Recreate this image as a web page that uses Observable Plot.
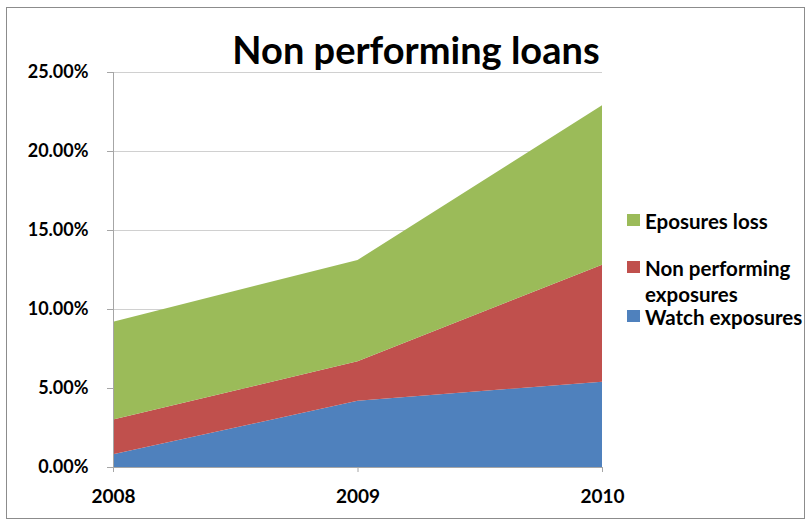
<!DOCTYPE html>
<html>
<head>
<meta charset="utf-8">
<script src="https://cdn.jsdelivr.net/npm/d3@7"></script>
<script src="https://cdn.jsdelivr.net/npm/@observablehq/plot@0.6"></script>
<style>
  html, body { margin: 0; padding: 0; background: #fff; }
  #wrap { position: relative; width: 810px; height: 525px; overflow: hidden; font-family: Lato, "Open Sans", sans-serif; }
  #frame { position: absolute; left: 6px; top: 7px; width: 799px; height: 512px; border: 1.5px solid #8c8c8c; box-sizing: border-box; }
  #title { position: absolute; left: 0; width: 832px; top: 24px; line-height: 50px; text-align: center; font-size: 38px; font-weight: bold; color: #000; }
  #legend { position: absolute; left: 627px; top: 208px; font-size: 20.5px; font-weight: bold; color: #000; line-height: 26px; }
  .item { position: absolute; padding-left: 18px; white-space: nowrap; }
  .sw { position: absolute; left: 0; top: 6px; width: 13px; height: 12px; }
  #chart { position: absolute; left: 0; top: 0; }
</style>
</head>
<body>
<div id="wrap">
  <div id="frame"></div>
  <div id="chart"></div>
  <div id="title">Non performing loans</div>
  <div id="legend"></div>
</div>
<script>
const years = [2008, 2009, 2010];
const seriesNames = ["Watch exposures", "Non performing exposures", "Eposures loss"];
const watchExposures = [0.8, 4.2, 5.4];
const nonPerformingExposures = [2.2, 2.5, 7.4];
const eposuresLoss = [6.2, 6.4, 10.1];
const yTicks = [0, 5, 10, 15, 20, 25];
const colors = ["#4F81BD", "#C0504D", "#9BBB59"];

const seriesValues = [watchExposures, nonPerformingExposures, eposuresLoss];
const data = [];
seriesNames.forEach((s, i) => years.forEach((y, j) => data.push({year: y, series: s, value: seriesValues[i][j]})));

const pct = d => d.toFixed(2) + "%";

const chart = Plot.plot({
  width: 810,
  height: 525,
  marginLeft: 113,
  marginRight: 208,
  marginTop: 72,
  marginBottom: 58,
  style: {fontFamily: "Lato, sans-serif", fontSize: "18px", fontWeight: "bold", color: "#000", background: "transparent"},
  x: {type: "linear", domain: [2008, 2010], label: null},
  y: {domain: [0, 25], label: null},
  color: {domain: seriesNames, range: colors},
  marks: [
    Plot.ruleY(yTicks, {stroke: "#d0d0d0", strokeWidth: 1}),
    Plot.areaY(data, {x: "year", y: "value", fill: "series", z: "series", order: seriesNames}),
    Plot.ruleX([2008], {stroke: "#a6a6a6", strokeWidth: 1}),
    Plot.ruleY([0], {stroke: "#a6a6a6", strokeWidth: 1}),
    Plot.axisY({ticks: yTicks, tickFormat: pct, tickSize: 6, tickPadding: 19, stroke: "#a6a6a6", fill: "#000", fontSize: 18}),
    Plot.axisX({ticks: years, tickFormat: d => String(d), tickSize: 5, tickPadding: 17, stroke: "#a6a6a6", fill: "#000", fontSize: 19})
  ]
});
document.getElementById("chart").appendChild(chart);

const legend = document.getElementById("legend");
const legendItems = [
  {lines: ["Eposures loss"], color: colors[2], top: 0},
  {lines: ["Non performing", "exposures"], color: colors[1], top: 47},
  {lines: ["Watch exposures"], color: colors[0], top: 96}
];
legendItems.forEach(it => {
  const d = document.createElement("div");
  d.className = "item";
  d.style.top = it.top + "px";
  d.innerHTML = `<span class="sw" style="background:${it.color}"></span>` + it.lines.join("<br>");
  legend.appendChild(d);
});
</script>
</body>
</html>
